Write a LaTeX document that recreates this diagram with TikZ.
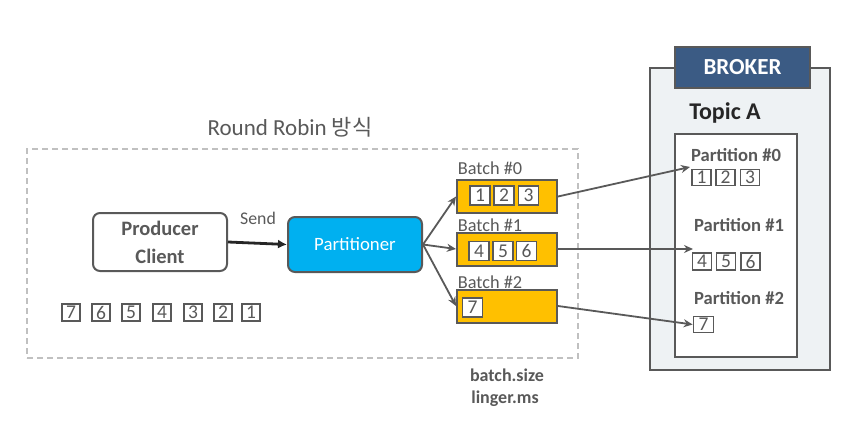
\documentclass[tikz,border=0pt]{standalone}
\usepackage{fontspec}
\setmainfont{Carlito}
\newfontfamily\krfont{Noto Sans CJK KR}
\usetikzlibrary{arrows.meta}
\definecolor{txt}{HTML}{595959}
\definecolor{dark}{HTML}{262626}
\definecolor{edge}{HTML}{595959}
\definecolor{blue1}{HTML}{00B0F0}
\definecolor{gold}{HTML}{FFC000}
\definecolor{navy}{HTML}{3B5B84}
\definecolor{pale}{HTML}{EEF2F4}
\definecolor{dashc}{HTML}{C0C0C0}
\begin{document}
\begin{tikzpicture}[x=1pt,y=-1pt,
  itm/.style={draw=edge,line width=1.8pt,fill=white,minimum width=18pt,minimum height=17pt,inner sep=0pt,text=txt,font=\fontsize{19.5}{19.5}\selectfont},
  pitm/.style={itm,minimum width=19pt,minimum height=16pt},
  batchbox/.style={draw=edge,line width=2pt,fill=gold,minimum width=100pt,minimum height=33pt,inner sep=0pt},
  lbl/.style={text=txt,font=\fontsize{18.3}{18.3}\selectfont,inner sep=0pt},
  blbl/.style={text=txt,font=\bfseries\fontsize{18}{18}\selectfont,inner sep=0pt},
  conn/.style={draw=edge,line width=1.8pt,-{Stealth[length=9pt,width=8pt]}},
]
\useasboundingbox (0,0) rectangle (842,425);
% dashed frame
\node[draw=dashc,line width=1.6pt,dash pattern=on 6pt off 4pt,minimum width=551pt,minimum height=209pt,inner sep=0pt] (frame) at (302.5,253.5) {};
\node[text=txt,font=\fontsize{23}{23}\selectfont,inner sep=0pt] (title) at (290,127) {Round Robin {\krfont\fontsize{22}{22}\selectfont 방식}};
% producer
\node[draw=edge,line width=2pt,fill=white,rounded corners=7pt,minimum width=134pt,minimum height=58pt,align=center,text=txt,font=\bfseries\fontsize{20.5}{28}\selectfont] (prod) at (160,242) {Producer\\Client};
\node[draw=edge,line width=2pt,fill=blue1,rounded corners=7pt,minimum width=134pt,minimum height=55pt,text=white,font=\fontsize{18.8}{18.8}\selectfont] (part) at (355,244.5) {Partitioner};
\node[lbl,font=\fontsize{17.8}{17.8}\selectfont] (send) at (258,218) {Send};
\draw[draw=dark,line width=2.8pt,line cap=butt,-{Latex[length=9pt,width=9pt]}] (prod.east) -- (part.west);
% message queue
\foreach \n/\x in {7/71,6/101,5/131,4/162,3/193,2/223,1/251}
  \node[itm] (m\n) at (\x,312.5) {\n};
% batches
\node[lbl] (bl0) at (490,168) {Batch \#0};
\node[batchbox] (b0) at (507,196.5) {};
\node[lbl] (bl1) at (490,225) {Batch \#1};
\node[batchbox] (b1) at (507,249) {};
\node[lbl] (bl2) at (490,282) {Batch \#2};
\node[batchbox] (b2) at (507,306) {};
\node[itm,minimum width=20pt,minimum height=19pt] (b0a) at (480,195.5) {1};
\node[itm,minimum width=20pt,minimum height=19pt] (b0b) at (504,195.5) {2};
\node[itm,minimum width=20pt,minimum height=19pt] (b0c) at (528.5,195.5) {3};
\node[itm,minimum width=20pt,minimum height=19pt] (b1a) at (479,251) {4};
\node[itm,minimum width=20pt,minimum height=19pt] (b1b) at (503,251) {5};
\node[itm,minimum width=20pt,minimum height=19pt] (b1c) at (526.5,251) {6};
\node[itm,minimum width=20pt,minimum height=19pt] (b2a) at (472.5,307.5) {7};
\draw[conn] (part.east) -- (b0.west);
\draw[conn] (part.east) -- (b1.west);
\draw[conn] (part.east) -- (b2.west);
\node[blbl] (bs) at (507,375) {batch.size};
\node[blbl] (lm) at (505,399) {linger.ms};
% broker
\node[draw=edge,line width=2pt,fill=pale,minimum width=180pt,minimum height=302pt,inner sep=0pt] (broker) at (740,219) {};
\node[draw=edge,line width=2pt,fill=navy,minimum width=135pt,minimum height=41pt,text=white,font=\bfseries\fontsize{23}{23}\selectfont,inner sep=0pt] (bhead) at (742.5,67.5) {BROKER};
\node[text=dark,font=\bfseries\fontsize{24}{24}\selectfont,inner sep=0pt] (topic) at (725,113) {Topic A};
\node[draw=edge,line width=2pt,fill=white,minimum width=122pt,minimum height=223pt,inner sep=0pt] (inner) at (736,245.5) {};
\node[blbl,font=\bfseries\fontsize{18.6}{18.6}\selectfont] (pl0) at (736,155) {Partition \#0};
\node[pitm] (p0a) at (701.5,177.5) {1};
\node[pitm] (p0b) at (725.5,177.5) {2};
\node[pitm] (p0c) at (750,177.5) {3};
\node[blbl,font=\bfseries\fontsize{18.6}{18.6}\selectfont] (pl1) at (739,225) {Partition \#1};
\node[pitm,minimum height=17pt] (p1a) at (702,261.5) {4};
\node[pitm,minimum height=17pt] (p1b) at (726,261.5) {5};
\node[pitm,minimum height=17pt] (p1c) at (750.5,261.5) {6};
\node[blbl,font=\bfseries\fontsize{18.6}{18.6}\selectfont] (pl2) at (739,298) {Partition \#2};
\node[pitm,minimum width=20pt] (p2a) at (703.5,324.5) {7};
\coordinate (t0) at (690,167);
\coordinate (t1) at (693,249);
\draw[conn] (b0.east) -- (t0);
\draw[conn] (b1.east) -- (t1);
\draw[conn] (b2.east) -- (p2a.west);
\end{tikzpicture}
\end{document}
